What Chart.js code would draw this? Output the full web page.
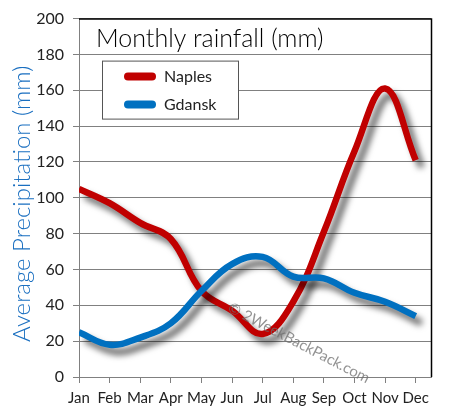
<!DOCTYPE html>
<html>
<head>
<meta charset="utf-8">
<script src="https://cdn.jsdelivr.net/npm/chart.js@4/dist/chart.umd.min.js"></script>
<style>
  html, body { margin: 0; padding: 0; background: #fff; }
  #wrap { width: 451px; height: 418px; position: relative; }
</style>
</head>
<body>
<div id="wrap"><canvas id="c" width="451" height="418"></canvas></div>
<script>
const months = ['Jan','Feb','Mar','Apr','May','Jun','Jul','Aug','Sep','Oct','Nov','Dec'];
const naples = [105, 97, 86, 77, 48, 37, 24, 42, 81, 126, 161, 121];
const gdansk = [25, 18, 22, 30, 48, 63, 67, 56, 55, 47, 42, 34];
const yTicks = [0, 20, 40, 60, 80, 100, 120, 140, 160, 180, 200];
const chartTitle = 'Monthly rainfall (mm)';
const yTitle = 'Average Precipitation (mm)';
const watermark = '\u00A9 2WeekBackPack.com';

const FONT = 'Lato, "Open Sans", sans-serif';
const RED = '#c00000';
const BLUE = '#0070c0';

const toPts = arr => arr.map((v, i) => ({ x: i, y: v }));

const shadowPlugin = {
  id: 'shadow',
  beforeDatasetDraw(chart) {
    const ctx = chart.ctx;
    ctx.save();
    ctx.shadowColor = 'rgba(0,0,0,0.6)';
    ctx.shadowBlur = 6;
    ctx.shadowOffsetX = 6;
    ctx.shadowOffsetY = 7;
  },
  afterDatasetDraw(chart) {
    chart.ctx.restore();
  }
};

const decorPlugin = {
  id: 'decor',
  afterDatasetsDraw(chart) {
    const ctx = chart.ctx;
    const a = chart.chartArea;
    ctx.save();
    // watermark
    ctx.save();
    ctx.translate(a.left + 150, a.top + 288);
    ctx.rotate(27.5 * Math.PI / 180);
    ctx.fillStyle = 'rgba(110,110,110,0.75)';
    ctx.font = '15px ' + FONT;
    ctx.textBaseline = 'middle';
    ctx.fillText(watermark, 0, 0);
    ctx.restore();
    // top & right border
    ctx.strokeStyle = '#000';
    ctx.lineWidth = 1.5;
    ctx.beginPath();
    ctx.moveTo(a.left, a.top + 0.5);
    ctx.lineTo(a.right + 0.5, a.top + 0.5);
    ctx.lineTo(a.right + 0.5, a.bottom);
    ctx.stroke();
    // title
    ctx.fillStyle = '#000';
    ctx.font = '300 25px ' + FONT;
    ctx.textBaseline = 'middle';
    ctx.textAlign = 'left';
    ctx.fillText(chartTitle, a.left + 17, a.top + 20);
    // legend
    const lx = a.left + 23, ly = a.top + 42, lw = 136, lh = 58;
    ctx.fillStyle = '#fff';
    ctx.fillRect(lx, ly, lw, lh);
    ctx.strokeStyle = '#555';
    ctx.lineWidth = 1;
    ctx.strokeRect(lx + 0.5, ly + 0.5, lw, lh);
    ctx.font = '16px ' + FONT;
    ctx.lineCap = 'round';
    chart.data.datasets.forEach((ds, i) => {
      const y = ly + 16 + i * 28;
      ctx.strokeStyle = ds.borderColor;
      ctx.lineWidth = 8;
      ctx.beginPath();
      ctx.moveTo(lx + 26, y);
      ctx.lineTo(lx + 50, y);
      ctx.stroke();
      ctx.fillStyle = '#222';
      ctx.fillText(ds.label, lx + 62, y);
    });
    ctx.restore();
  }
};

new Chart(document.getElementById('c'), {
  type: 'line',
  data: {
    datasets: [
      { label: 'Naples', data: toPts(naples), borderColor: RED, backgroundColor: RED,
        borderWidth: 6.5, tension: 0.4, pointRadius: 0, fill: false, order: 1 },
      { label: 'Gdansk', data: toPts(gdansk), borderColor: BLUE, backgroundColor: BLUE,
        borderWidth: 6.5, tension: 0.4, pointRadius: 0, fill: false, order: 0 }
    ]
  },
  plugins: [shadowPlugin, decorPlugin],
  options: {
    responsive: false,
    animation: false,
    events: [],
    layout: { padding: { top: 13, right: 20, left: 0, bottom: 0 } },
    plugins: { legend: { display: false }, tooltip: { enabled: false }, title: { display: false } },
    scales: {
      x: {
        type: 'linear',
        min: 0,
        max: 11.5,
        afterFit(s) { s.height = 41; },
        afterBuildTicks(s) {
          s.ticks = months.map((m, i) => ({ value: i }));
        },
        ticks: {
          autoSkip: false,
          maxRotation: 0,
          padding: 6,
          color: '#222',
          font: { family: FONT, size: 15 },
          callback: (v) => months[v]
        },
        grid: { drawOnChartArea: false, drawTicks: true, tickLength: 6, color: '#808080', lineWidth: 1 },
        border: { display: true, color: '#808080', width: 1 }
      },
      y: {
        min: 0,
        max: 200,
        afterFit(s) { s.width = 79; },
        afterBuildTicks(s) { s.ticks = yTicks.map(v => ({ value: v })); },
        ticks: {
          padding: 9,
          color: '#222',
          font: { family: FONT, size: 16 }
        },
        grid: { color: '#808080', lineWidth: 1, tickLength: 6 },
        border: { display: true, color: '#808080', width: 1 },
        title: {
          display: true,
          text: yTitle + '\u2002',
          color: '#1a6fc0',
          font: { family: FONT, size: 24, weight: 300 },
          padding: { top: 8, bottom: 0 }
        }
      }
    }
  }
});
</script>
</body>
</html>
